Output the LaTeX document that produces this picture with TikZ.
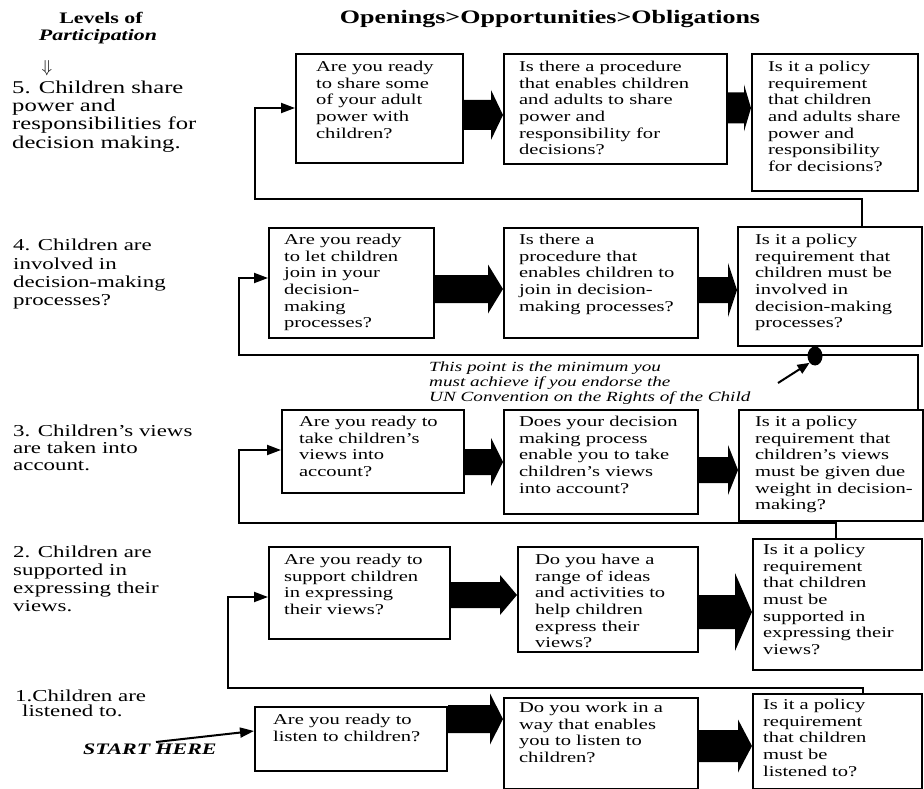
\documentclass[tikz,border=0pt]{standalone}
\usepackage{fontspec}
\setmainfont{Liberation Serif}[FakeStretch=1.37]
\usetikzlibrary{arrows.meta,shapes.geometric,calc}

% box text: width, height, left inset, first baseline, lines
\newcommand{\qtext}[5]{\parbox[c][#2pt][t]{#1pt}{\leftskip=#3pt\relax\rule{0pt}{#4pt}#5}}

% wide black arrow between two boxes: source, target, y, half shaft, half head, head length
\newcommand{\bigarrow}[6]{%
  \fill let \p1=(#1.east), \p2=(#2.west), \p3=(0,#3) in
    (\x1,{\y3+#4pt}) -- ({\x2-#6pt},{\y3+#4pt}) -- ({\x2-#6pt},{\y3+#5pt}) -- (\x2,\y3)
    -- ({\x2-#6pt},{\y3-#5pt}) -- ({\x2-#6pt},{\y3-#4pt}) -- (\x1,{\y3-#4pt}) -- cycle;}

\tikzset{
  qbox/.style={draw, line width=2.2pt, inner sep=0pt, anchor=north west,
    font=\fontsize{15pt}{16.7pt}\selectfont},
  lvl/.style={inner sep=0pt, anchor=north west, align=left},
  fb/.style={line width=2pt, -{Triangle[length=14pt,width=10pt]}},
}

\begin{document}
\begin{tikzpicture}[x=1pt, y=-1pt]
\fill[white] (0,0) rectangle (924,789);
\useasboundingbox (0,0) rectangle (924,789);

% headings
\node[font=\fontsize{19pt}{22pt}\selectfont\bfseries, anchor=base, inner sep=0pt] (title) at (550,24) {Openings>Opportunities>Obligations};
\node[font=\fontsize{16pt}{18pt}\selectfont\bfseries, anchor=base, inner sep=0pt] (lvh1) at (101,23.5) {Levels of};
\node[font=\fontsize{16pt}{18pt}\selectfont\bfseries\itshape, anchor=base, inner sep=0pt] (lvh2) at (98,41) {Participation};
\node[font=\fontsize{16pt}{18pt}\selectfont, inner sep=0pt] (down) at (47,68) {$\Downarrow$};

% levels of participation
\node[lvl, font=\fontsize{18pt}{18.3pt}\selectfont] (lv5) at (12,79) {\rule{0pt}{14pt}5. Children share\\power and\\responsibilities for\\decision making.};
\node[lvl, font=\fontsize{16.7pt}{18.3pt}\selectfont] (lv4) at (13,237.7) {\rule{0pt}{13pt}4. Children are\\involved in\\decision-making\\processes?};
\node[lvl, font=\fontsize{16.7pt}{16.7pt}\selectfont] (lv3) at (13,423.7) {\rule{0pt}{13pt}3. Children's views\\are taken into\\account.};
\node[lvl, font=\fontsize{16.7pt}{17.7pt}\selectfont] (lv2) at (13,544.7) {\rule{0pt}{13pt}2. Children are\\supported in\\expressing their\\views.};
\node[lvl, font=\fontsize{16.7pt}{15pt}\selectfont] (lv1) at (15,688.7) {\rule{0pt}{13pt}1.Children are\\\hspace*{7pt}listened to.};

% level 5
\node[qbox] (a5) at (295,53) {\qtext{167}{109}{20}{17.3}{Are you ready\\to share some\\of your adult\\power with\\children?}};
\node[qbox] (b5) at (503,53) {\qtext{223}{110}{15}{17.3}{Is there a procedure\\that enables children\\and adults to share\\power and\\responsibility for\\decisions?}};
\node[qbox] (c5) at (751,53) {\qtext{166}{137}{16}{17.3}{Is it a policy\\requirement\\that children\\and adults share\\power and\\responsibility\\for decisions?}};

% level 4
\node[qbox] (a4) at (268,227) {\qtext{165}{110}{15}{16.3}{Are you ready\\to let children\\join in your\\decision-\\making\\processes?}};
\node[qbox] (b4) at (503,227) {\qtext{194}{110}{15}{16.3}{Is there a\\procedure that\\enables children to\\join in decision-\\making processes?}};
\node[qbox] (c4) at (737,226) {\qtext{184}{119}{17}{17.3}{Is it a policy\\requirement that\\children must be\\involved in\\decision-making\\processes?}};

% level 3
\node[qbox] (a3) at (281,409) {\qtext{182}{83}{17}{16.3}{Are you ready to\\take children's\\views into\\account?}};
\node[qbox] (b3) at (503,409) {\qtext{194}{104}{15}{16.3}{Does your decision\\making process\\enable you to take\\children's views\\into account?}};
\node[qbox] (c3) at (738,409) {\qtext{184}{111}{16}{16.3}{Is it a policy\\requirement that\\children's views\\must be given due\\weight in decision-\\making?}};

% level 2
\node[qbox] (a2) at (268,546) {\qtext{181}{92}{15}{17.3}{Are you ready to\\support children\\in expressing\\their views?}};
\node[qbox] (b2) at (517,546) {\qtext{180}{105}{17}{17.3}{Do you have a\\range of ideas\\and activities to\\help children\\express their\\views?}};
\node[qbox] (c2) at (752,538) {\qtext{169}{131}{10}{15.3}{Is it a policy\\requirement\\that children\\must be\\supported in\\expressing their\\views?}};

% level 1
\node[qbox] (a1) at (254,706) {\qtext{192}{64}{18}{17.3}{Are you ready to\\listen to children?}};
\node[qbox] (b1) at (503,697) {\qtext{194}{91}{15}{14.3}{Do you work in a\\way that enables\\you to listen to\\children?}};
\node[qbox] (c1) at (752,693) {\qtext{169}{95}{10}{15.3}{Is it a policy\\requirement\\that children\\must be\\listened to?}};

% openings > opportunities > obligations
\bigarrow{a5}{b5}{115}{15}{25}{12}
\bigarrow{b5}{c5}{108}{15.5}{23.5}{7}
\bigarrow{a4}{b4}{289}{14}{24.5}{15}
\bigarrow{b4}{c4}{290}{13}{27}{9}
\bigarrow{a3}{b3}{462}{13}{24}{12}
\bigarrow{b3}{c3}{470}{13}{25}{10}
\bigarrow{a2}{b2}{595}{13}{20}{17}
\bigarrow{b2}{c2}{612}{17}{39}{17}
\bigarrow{a1}{b1}{719}{14}{25.5}{13}
\bigarrow{b1}{c1}{746}{16}{26.5}{14}

% climbing to the next level
\draw[fb] (c4.north -| 862,0) |- (255,199) |- (a5.west |- 0,108);
\draw[fb] (c3.north -| 918,0) |- (239,355) |- (a4.west |- 0,278);
\draw[fb] (c2.north -| 836,0) |- (239,523) |- (a3.west |- 0,450);
\draw[fb] (c1.north -| 863,0) |- (228,688) |- (a2.west |- 0,597);

% minimum point
\node[ellipse, fill, inner sep=0pt, minimum width=15pt, minimum height=19pt] (dot) at (815,356) {};
\node[lvl, font=\fontsize{14pt}{15pt}\selectfont\itshape] (note) at (429,360) {\rule{0pt}{11pt}This point is the minimum you\\must achieve if you endorse the\\UN Convention on the Rights of the Child};
\coordinate (ptr) at (778,383);
\draw[line width=2pt, -{Triangle[length=12pt,width=10pt]}] (ptr) -- (dot.south west);

% start
\node[font=\fontsize{16pt}{18pt}\selectfont\bfseries\itshape, anchor=base west, inner sep=0pt] (start) at (83,754) {START HERE};
\coordinate (st) at (156,742);
\draw[fb] (st) -- (a1.west |- 0,731);
\end{tikzpicture}
\end{document}
